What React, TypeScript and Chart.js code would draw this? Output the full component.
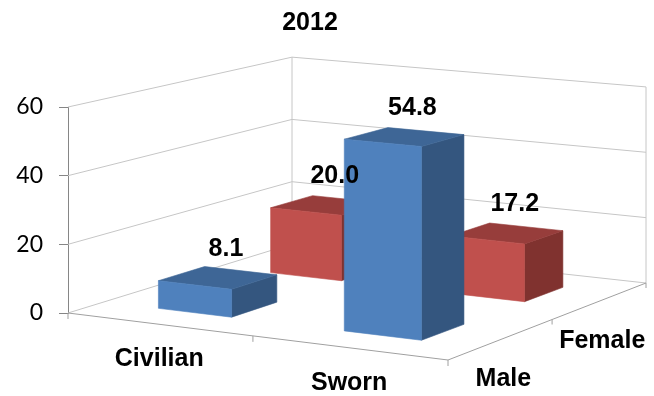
import { useEffect, useRef } from 'react';
import { Chart, registerables } from 'chart.js';

Chart.register(...registerables);

// ---- data ----
const chartTitle = '2012';
const categories = ['Civilian', 'Sworn'];
const seriesNames = ['Male', 'Female'];
const maleValues = [8.1, 54.8];
const femaleValues = [20.0, 17.2];
const yMin = 0;
const yMax = 60;
const yStep = 20;

// ---- look ----
const seriesShades = [
  { front: '#4f81bd', top: '#3e6696', side: '#34567f' },
  { front: '#c0504d', top: '#973d3b', side: '#80322f' },
];
const GRID_COLOR = '#c6c6c6';
const AXIS_COLOR = '#868686';
const FLOOR_EDGE_COLOR = '#a0a0a0';
const BOLD_FONT = 'bold 25px "Liberation Sans", Arial, sans-serif';

// Floor corners (front-right, back-left, back-right) relative to the
// front-left corner of the plot, in pixels: a perspective view of the floor.
const FLOOR_FR = [380, 47];
const FLOOR_BL = [224, -69];
const FLOOR_BR = [578, -30];
// gap between bars, in both directions, as a share of bar size
const GAP_WIDTH = 1.5;

type Pt = [number, number];

// Builds a projector (u along categories, w into depth, v = value) -> canvas px
function makeProjector(chart: any) {
  const ys = chart.scales.y;
  const x0 = chart.chartArea.left;
  const y0 = ys.getPixelForValue(yMin);
  const p0: Pt = [x0, y0];
  const p1: Pt = [x0 + FLOOR_FR[0], y0 + FLOOR_FR[1]];
  const p2: Pt = [x0 + FLOOR_BR[0], y0 + FLOOR_BR[1]];
  const p3: Pt = [x0 + FLOOR_BL[0], y0 + FLOOR_BL[1]];
  const sx = p0[0] - p1[0] + p2[0] - p3[0];
  const sy = p0[1] - p1[1] + p2[1] - p3[1];
  const dx1 = p1[0] - p2[0];
  const dx2 = p3[0] - p2[0];
  const dy1 = p1[1] - p2[1];
  const dy2 = p3[1] - p2[1];
  const det = dx1 * dy2 - dx2 * dy1;
  const g = (sx * dy2 - dx2 * sy) / det;
  const h = (dx1 * sy - sx * dy1) / det;
  const a = p1[0] - p0[0] + g * p1[0];
  const b = p3[0] - p0[0] + h * p3[0];
  const d = p1[1] - p0[1] + g * p1[1];
  const e = p3[1] - p0[1] + h * p3[1];
  return (u: number, w: number, v: number): Pt => {
    const D = g * u + h * w + 1;
    const x = (a * u + b * w + p0[0]) / D;
    const y = (d * u + e * w + p0[1]) / D;
    const rise = (y0 - ys.getPixelForValue(v)) / D;
    return [x, y - rise];
  };
}

function line(ctx: CanvasRenderingContext2D, a: Pt, b: Pt) {
  ctx.beginPath();
  ctx.moveTo(a[0], a[1]);
  ctx.lineTo(b[0], b[1]);
  ctx.stroke();
}

function poly(ctx: CanvasRenderingContext2D, pts: Pt[], color: string) {
  ctx.beginPath();
  ctx.moveTo(pts[0][0], pts[0][1]);
  for (let i = 1; i < pts.length; i++) ctx.lineTo(pts[i][0], pts[i][1]);
  ctx.closePath();
  ctx.fillStyle = color;
  ctx.fill();
  ctx.strokeStyle = color;
  ctx.lineWidth = 0.6;
  ctx.stroke();
}

const box3dPlugin = {
  id: 'box3d',
  beforeDatasetsDraw(chart: any) {
    const ctx: CanvasRenderingContext2D = chart.ctx;
    const P = makeProjector(chart);
    const ys = chart.scales.y;
    ctx.save();
    ctx.lineWidth = 1;
    // walls with gridlines
    ctx.strokeStyle = GRID_COLOR;
    for (const t of ys.ticks) {
      const v = t.value;
      line(ctx, P(0, 0, v), P(0, 1, v));
      line(ctx, P(0, 1, v), P(1, 1, v));
    }
    line(ctx, P(0, 1, yMin), P(0, 1, yMax));
    line(ctx, P(1, 1, yMin), P(1, 1, yMax));
    // floor axis edges and tick marks
    ctx.strokeStyle = FLOOR_EDGE_COLOR;
    line(ctx, P(0, 0, yMin), P(1, 0, yMin));
    line(ctx, P(1, 0, yMin), P(1, 1, yMin));
    const n = categories.length;
    for (let i = 0; i <= n; i++) {
      const q = P(i / n, 0, yMin);
      line(ctx, q, [q[0], q[1] + 6]);
    }
    const m = seriesNames.length;
    for (let j = 1; j <= m; j++) {
      const q = P(1, j / m, yMin);
      line(ctx, q, [q[0], q[1] + 5]);
    }
    ctx.restore();
  },
  afterDatasetsDraw(chart: any) {
    const ctx: CanvasRenderingContext2D = chart.ctx;
    const P = makeProjector(chart);
    const xs = chart.scales.x;
    const span = xs.right - xs.left;
    const catU = (xs.getPixelForValue(1) - xs.getPixelForValue(0)) / span;
    const halfU = catU / (1 + GAP_WIDTH) / 2;
    const nS = chart.data.datasets.length;
    const halfW = 1 / nS / (1 + GAP_WIDTH) / 2;
    const uOf = (i: number) => (xs.getPixelForValue(i) - xs.left) / span;
    const wOf = (s: number) => (s + 0.5) / nS;

    ctx.save();
    // bars, back row first, left to right
    for (let s = nS - 1; s >= 0; s--) {
      const ds = chart.data.datasets[s];
      const shade = seriesShades[s];
      ds.data.forEach((val: number, i: number) => {
        const u0 = uOf(i) - halfU, u1 = uOf(i) + halfU;
        const w0 = wOf(s) - halfW, w1 = wOf(s) + halfW;
        poly(ctx, [P(u1, w0, yMin), P(u1, w1, yMin), P(u1, w1, val), P(u1, w0, val)], shade.side);
        poly(ctx, [P(u0, w0, val), P(u1, w0, val), P(u1, w1, val), P(u0, w1, val)], shade.top);
        poly(ctx, [P(u0, w0, yMin), P(u1, w0, yMin), P(u1, w0, val), P(u0, w0, val)], shade.front);
      });
    }

    // value labels above each bar
    ctx.fillStyle = '#000';
    ctx.font = BOLD_FONT;
    ctx.textAlign = 'center';
    ctx.textBaseline = 'middle';
    for (let s = 0; s < nS; s++) {
      chart.data.datasets[s].data.forEach((val: number, i: number) => {
        const q = P(uOf(i), wOf(s), val);
        ctx.fillText(val.toFixed(1), q[0] + 8, q[1] - 29);
      });
    }
    // category labels along the front edge
    categories.forEach((c, i) => {
      const q = P(uOf(i), 0, yMin);
      ctx.fillText(c, q[0], q[1] + 35);
    });
    // series labels along the depth edge
    seriesNames.forEach((name, s) => {
      const q = P(1, wOf(s), yMin);
      ctx.fillText(name, q[0] + 2, q[1] + 40);
    });
    ctx.restore();
  },
};

export default function App() {
  const canvasRef = useRef<HTMLCanvasElement | null>(null);

  useEffect(() => {
    const canvas = canvasRef.current;
    if (!canvas) return;
    const chart = new Chart(canvas, {
      type: 'bar',
      data: {
        labels: categories,
        datasets: [
          { label: seriesNames[0], data: maleValues, backgroundColor: 'rgba(0,0,0,0)', borderWidth: 0 },
          { label: seriesNames[1], data: femaleValues, backgroundColor: 'rgba(0,0,0,0)', borderWidth: 0 },
        ],
      },
      options: {
        responsive: false,
        animation: false,
        events: [],
        layout: { padding: { left: 0, right: 34, top: 0, bottom: 83 } },
        plugins: {
          legend: { display: false },
          tooltip: { enabled: false },
          title: {
            display: true,
            text: chartTitle,
            color: '#000',
            font: { family: '"Liberation Sans", Arial, sans-serif', size: 25, weight: 'bold' },
            padding: { top: 8, bottom: 69 },
          },
        },
        scales: {
          x: { display: false },
          y: {
            min: yMin,
            max: yMax,
            ticks: {
              stepSize: yStep,
              color: '#000',
              padding: 16,
              font: { family: 'Lato, "Open Sans", sans-serif', size: 23 },
            },
            grid: { drawOnChartArea: false, tickLength: 9, color: AXIS_COLOR },
            border: { display: true, color: AXIS_COLOR },
            afterFit: (scale: any) => {
              scale.width = 68;
            },
          },
        },
      },
      plugins: [box3dPlugin],
    } as any);
    return () => chart.destroy();
  }, []);

  return (
    <div style={{ position: 'fixed', left: 0, top: 0, width: 654, height: 396, background: '#fff' }}>
      <canvas ref={canvasRef} width={654} height={396} style={{ display: 'block' }} />
    </div>
  );
}
